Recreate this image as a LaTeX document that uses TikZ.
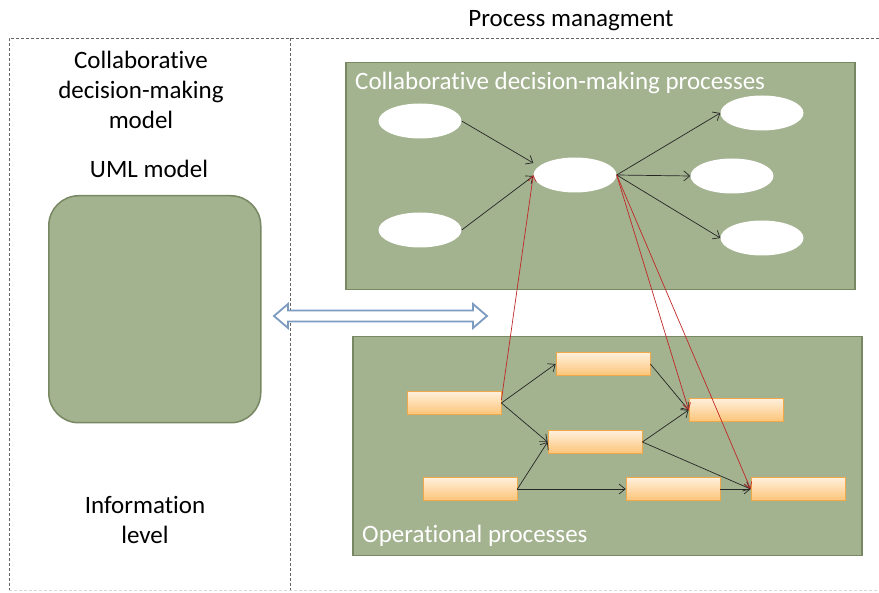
\documentclass[tikz,border=0pt]{standalone}
\usepackage{fontspec}
\setmainfont[Ligatures=NoCommon]{Carlito}
\usetikzlibrary{shapes.geometric,arrows.meta}
\definecolor{grn}{RGB}{163,178,143}
\definecolor{grnb}{RGB}{120,136,98}
\definecolor{ortop}{RGB}{255,240,220}
\definecolor{orbot}{RGB}{252,196,120}
\definecolor{orb}{RGB}{240,168,72}
\definecolor{redl}{RGB}{192,40,40}
\definecolor{blu}{RGB}{125,155,192}
\definecolor{frcol}{RGB}{100,100,100}
\begin{document}
\begin{tikzpicture}[x=1pt,y=-1pt,
  txt/.style={font=\fontsize{25}{30}\selectfont, align=center, inner sep=0pt},
  panel/.style={rectangle, draw=grnb, fill=grn, line width=1.5pt, inner sep=0pt, anchor=north west},
  ell/.style={ellipse, fill=white, minimum width=83pt, minimum height=35pt, inner sep=0pt},
  proc/.style={rectangle, draw=orb, line width=0.8pt, top color=ortop, bottom color=orbot, minimum width=94pt, minimum height=23pt, inner sep=0pt},
  flow/.style={-{Straight Barb[length=6pt,width=10pt]}, line width=0.7pt, black!85},
  link/.style={-{Straight Barb[length=6pt,width=8pt]}, line width=0.7pt, redl},
  frameline/.style={draw=frcol, dashed, dash pattern=on 3pt off 2pt, line width=0.6pt}
]
\useasboundingbox (0,0) rectangle (879,593);

% frame
\coordinate (fTR) at (879,38);
\coordinate (fTL) at (9,38);
\coordinate (fBL) at (9,593);
\coordinate (fMT) at (290,38);
\coordinate (fMB) at (290,593);
\coordinate (fBR) at (879,590);
\coordinate (fBL2) at (9,590);
\draw[frameline] (fTR) -- (fTL) -- (fBL);
\draw[frameline] (fMT) -- (fMB);
\draw[frameline, draw=frcol!25] (fBL2) -- (fBR);

% titles
\node[txt, anchor=base] (title) at (571,27) {Process managment};
\node[txt] (cdm) at (141,90) {Collaborative\\decision-making\\model};
\node[txt] (umlt) at (149,169) {UML model};
\node[txt] (info) at (145,520) {Information\\level};

% left box
\node[panel, rounded corners=30pt, minimum width=212pt, minimum height=227pt] (uml) at (48,195) {};

% panels
\node[panel, minimum width=509pt, minimum height=227pt] (cpanel) at (345,62) {};
\node[panel, minimum width=509pt, minimum height=219pt] (opanel) at (352,336) {};
\node[txt, text=white, anchor=base west] (clabel) at (355,90) {Collaborative decision-making processes};
\node[txt, text=white, anchor=base west] (olabel) at (362,543) {Operational processes};

% double arrow
\draw[blu, line width=1.8pt, fill=white, line join=miter]
  (274,316) -- (288,304) -- (288,310.5) -- (473,310.5) -- (473,304) -- (487,316)
  -- (473,328) -- (473,321.5) -- (288,321.5) -- (288,328) -- cycle;

% ellipses
\node[ell] (E1) at (420,121) {};
\node[ell] (E2) at (420,230) {};
\node[ell] (E3) at (575,175) {};
\node[ell] (E4) at (762,113) {};
\node[ell] (E5) at (732,176) {};
\node[ell] (E6) at (762,238) {};

% process rectangles
\node[proc] (R1) at (454,403) {};
\node[proc] (R2) at (603,364) {};
\node[proc] (R3) at (595,442) {};
\node[proc] (R4) at (736,410) {};
\node[proc] (R5) at (470,489) {};
\node[proc] (R6) at (673,489) {};
\node[proc] (R7) at (798,489) {};

% ellipse flows
\draw[flow] (E1.east) -- ([yshift=12pt]E3.west);
\draw[flow] (E2.east) -- ([yshift=-1pt]E3.west);
\draw[flow] (E3.east) -- (E4.west);
\draw[flow] (E3.east) -- (E5.west);
\draw[flow] (E3.east) -- (E6.west);

% process flows
\draw[flow] (R1.east) -- (R2.west);
\draw[flow] (R1.east) -- (R3.west);
\draw[flow] (R5.east) -- (R3.west);
\draw[flow] (R5.east) -- (R6.west);
\draw[flow] (R2.east) -- (R4.west);
\draw[flow] (R3.east) -- (R4.west);
\draw[flow] (R3.east) -- (R7.west);
\draw[flow] (R6.east) -- (R7.west);

% red links
\draw[link] ([yshift=3pt]R1.east) -- (E3.west);
\draw[link] (E3.east) -- (R4.west);
\draw[link] (E3.east) -- (R7.west);
\end{tikzpicture}
\end{document}
